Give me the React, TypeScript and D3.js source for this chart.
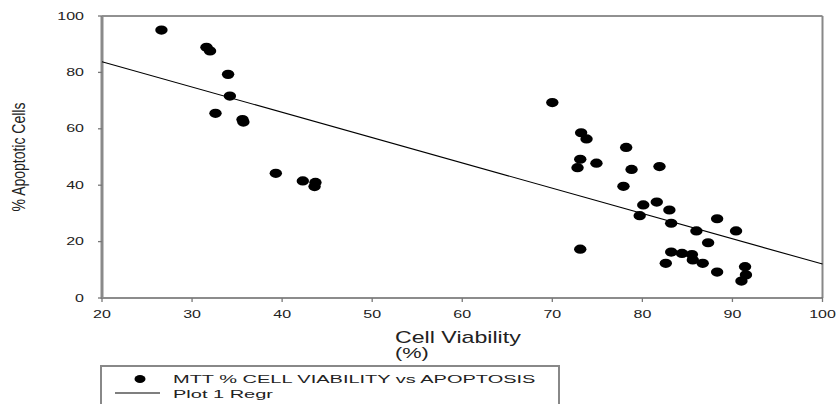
import * as d3 from "d3";

const W = 838;
const H = 404;

// scatter data: cell viability (%) vs apoptotic cells (%)
const viability = [
  26.6, 31.6, 32.0, 34.0, 34.2, 32.6, 35.6, 35.7, 39.3, 42.3, 43.7, 43.6,
  70.0, 73.2, 73.8, 78.2, 73.1, 74.9, 72.8, 78.8, 81.9, 77.9, 80.1, 81.6,
  83.0, 79.7, 83.2, 88.3, 86.0, 90.4, 87.3, 73.1, 83.2, 84.4, 85.5, 85.6,
  86.7, 82.6, 88.3, 91.4, 91.5, 91.0,
];
const apoptotic = [
  95.0, 88.9, 87.6, 79.3, 71.6, 65.5, 63.3, 62.4, 44.2, 41.5, 41.0, 39.5,
  69.3, 58.6, 56.4, 53.4, 49.2, 47.8, 46.2, 45.6, 46.6, 39.6, 33.0, 34.0,
  31.2, 29.2, 26.5, 28.1, 23.8, 23.8, 19.6, 17.3, 16.3, 15.8, 15.4, 13.5,
  12.3, 12.3, 9.2, 11.1, 8.2, 6.0,
];

// regression line: y = a + b*x
const regrIntercept = 101.73;
const regrSlope = -0.897;
const regrRange = [20, 100];

const xTicks = [20, 30, 40, 50, 60, 70, 80, 90, 100];
const yTicks = [0, 20, 40, 60, 80, 100];

const legendLabels = ["MTT % CELL VIABILITY vs APOPTOSIS", "Plot 1 Regr"];

const FONT = "'Liberation Sans', Arial, sans-serif";

export default function App() {
  const x = d3.scaleLinear().domain([20, 100]).range([102, 822.5]);
  const y = d3.scaleLinear().domain([0, 100]).range([298, 16]);

  const regrLine = d3
    .line<number>()
    .x((d) => x(d))
    .y((d) => y(regrIntercept + regrSlope * d));

  const points = viability.map((v, i) => ({ v, a: apoptotic[i] }));
  const [x0, x1] = x.range();
  const [yb, yt] = y.range();

  return (
    <div style={{ width: W, height: H }}>
      <style>{`body{margin:0}`}</style>
      <svg width={W} height={H} style={{ display: "block", background: "#fff" }}>
        {/* frame */}
        <line x1={x0} x2={x1} y1={yt} y2={yt} stroke="#222" strokeWidth={1} />
        <line x1={x1} x2={x1} y1={yt} y2={yb} stroke="#888" strokeWidth={2} />
        <line x1={x0} x2={x1} y1={yb} y2={yb} stroke="#666" strokeWidth={1.6} />
        <line x1={x0} x2={x0} y1={yt} y2={yb + 1} stroke="#8a8a8a" strokeWidth={3} />

        {/* x ticks */}
        {xTicks.map((t) => (
          <g key={"x" + t}>
            <line x1={x(t)} x2={x(t)} y1={yb} y2={yb + 4} stroke="#777" strokeWidth={1.3} />
            <g transform={`translate(${x(t)},${yb + 20}) scale(1.6,1)`}>
              <text textAnchor="middle" fontFamily={FONT} fontSize={10} fill="#222">
                {t}
              </text>
            </g>
          </g>
        ))}

        {/* y ticks */}
        {yTicks.map((t) => (
          <g key={"y" + t}>
            <line x1={x0 - 4} x2={x0} y1={y(t)} y2={y(t)} stroke="#777" strokeWidth={1.3} />
            <g transform={`translate(${x0 - 18},${y(t) + 3.5}) scale(1.6,1)`}>
              <text textAnchor="end" fontFamily={FONT} fontSize={10} fill="#222">
                {t}
              </text>
            </g>
          </g>
        ))}

        {/* axis titles */}
        <text
          transform="translate(25,157) scale(1.3,1) rotate(-90)"
          textAnchor="middle"
          fontFamily={FONT}
          fontSize={14}
          fill="#222"
        >
          % Apoptotic Cells
        </text>
        <g transform="translate(395,343) scale(1.45,1)">
          <text fontFamily={FONT} fontSize={16} fill="#222">
            Cell Viability
          </text>
          <text y={15} fontFamily={FONT} fontSize={15} fill="#222">
            (%)
          </text>
        </g>

        {/* regression */}
        <path d={regrLine(regrRange) || ""} fill="none" stroke="#000" strokeWidth={1.1} />

        {/* points */}
        {points.map((p, i) => (
          <ellipse key={i} cx={x(p.v)} cy={y(p.a)} rx={6.2} ry={4.6} fill="#000" />
        ))}

        {/* legend */}
        <rect x={101} y={366} width={458} height={50} fill="#fff" stroke="#888" strokeWidth={2} />
        <ellipse cx={140} cy={379} rx={5.5} ry={4} fill="#000" />
        <line x1={115} x2={160} y1={393} y2={393} stroke="#000" strokeWidth={1.1} />
        {legendLabels.map((l, i) => (
          <g key={l} transform={`translate(173,${383 + i * 14.5}) scale(2,1)`}>
            <text fontFamily={FONT} fontSize={10} fill="#222">
              {l}
            </text>
          </g>
        ))}
      </svg>
    </div>
  );
}
